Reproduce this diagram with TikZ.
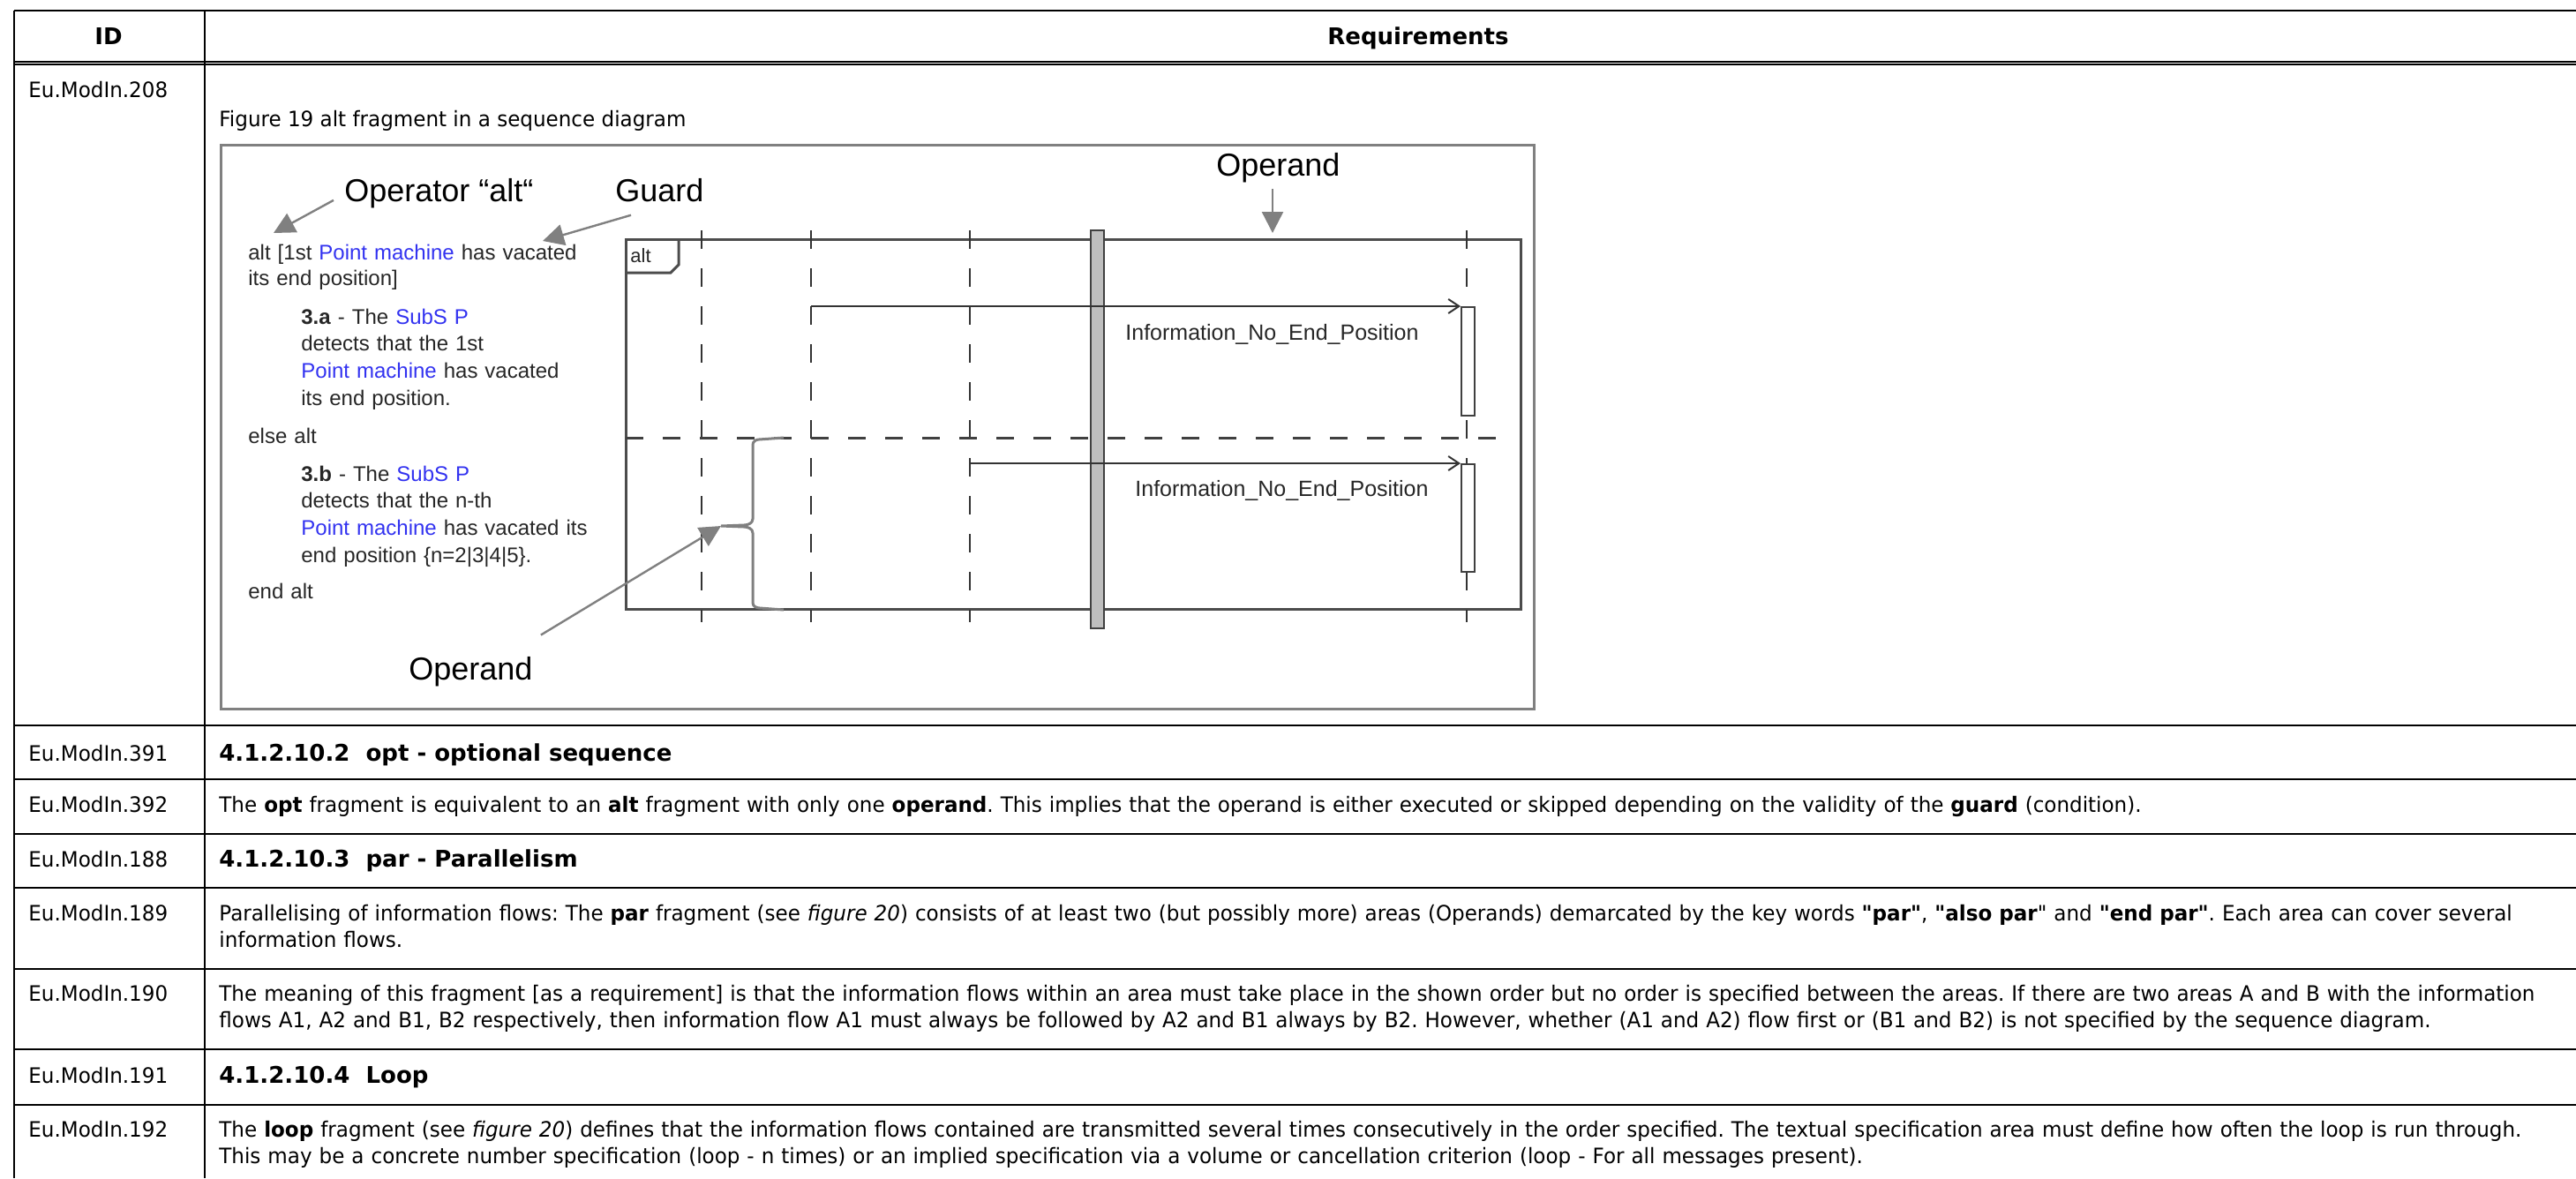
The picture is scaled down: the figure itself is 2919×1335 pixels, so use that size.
\documentclass[tikz,border=0pt]{standalone}
\usepackage{fontspec}
\usepackage{xcolor}
\usepackage{tikz}
\tikzset{>=latex}
\usetikzlibrary{arrows.meta}

\newfontfamily\bodyfont{DejaVu Sans}[FakeStretch=0.96]
\newfontfamily\headfont{DejaVu Sans}
\newfontfamily\figfont{Liberation Sans}
\frenchspacing

\definecolor{figgray}{RGB}{128,128,128}
\definecolor{figblue}{RGB}{50,50,240}
\definecolor{bargray}{RGB}{190,190,190}
\newcommand{\blu}[1]{\textcolor{figblue}{#1}}

\tikzset{
  rule/.style={line width=1pt},
  idlabel/.style={anchor=base west, inner sep=0pt, font=\bodyfont\fontsize{12}{15}\selectfont},
  reqlabel/.style={anchor=base west, inner sep=0pt, align=left, text width=1400pt, font=\bodyfont\fontsize{12}{15}\selectfont},
  titlelabel/.style={anchor=base west, inner sep=0pt, font=\headfont\bfseries\fontsize{13}{16}\selectfont},
  figtxt/.style={anchor=base west, inner sep=0pt, align=left, text width=220pt, text=black!85, font=\figfont\fontsize{12}{15.35}\selectfont},
  annotlabel/.style={anchor=base west, inner sep=0pt, font=\figfont\fontsize{18}{22}\selectfont},
  annot/.style={draw=figgray, line width=1.2pt, -{Triangle[length=12pt,width=12pt]}},
  lifeline/.style={black!80, line width=1pt, dash pattern=on 10.5pt off 11pt},
  msg/.style={black!80, line width=1pt, -{Straight Barb[length=6pt,width=8pt]}},
  actbox/.style={draw=black!75, fill=white, line width=1pt, inner sep=0pt, minimum width=7.5pt, anchor=north west}
}

\begin{document}
\begin{tikzpicture}[x=0.5pt, y=-0.5pt]
   \useasboundingbox (0,0) rectangle (2919,1335);

   % table rules
   \draw[rule] (16,12) -- (2919,12);
   \draw[rule] (16,70) -- (2919,70);
   \draw[rule] (16,73) -- (2919,73);
   \foreach \y in {822,883,945,1006,1098,1189,1252}{
       \draw[rule] (16,\y) -- (2919,\y);
   }
   \draw[rule] (16,12) -- (16,1335);
   \draw[rule] (232,12) -- (232,1335);

   % header
   \node[anchor=base, inner sep=0pt, font=\headfont\bfseries\fontsize{13}{16}\selectfont] (idhead) at (123,50) {ID};
   \node[anchor=base, inner sep=0pt, font=\headfont\bfseries\fontsize{13}{16}\selectfont] (reqhead) at (1607,50) {Requirements};

   % ids
   \node[idlabel] (id208) at (32,110) {Eu.ModIn.208};
   \node[idlabel] (id391) at (32,862) {Eu.ModIn.391};
   \node[idlabel] (id392) at (32,920) {Eu.ModIn.392};
   \node[idlabel] (id188) at (32,982) {Eu.ModIn.188};
   \node[idlabel] (id189) at (32,1043) {Eu.ModIn.189};
   \node[idlabel] (id190) at (32,1134) {Eu.ModIn.190};
   \node[idlabel] (id191) at (32,1227) {Eu.ModIn.191};
   \node[idlabel] (id192) at (32,1288) {Eu.ModIn.192};

   % requirements
   \node[idlabel] (fig19) at (248,143) {Figure 19 alt fragment in a sequence diagram};
   \node[titlelabel] (req391) at (248,862) {4.1.2.10.2\ \ opt - optional sequence};
   \node[reqlabel] (req392) at (248,920) {The \textbf{opt} fragment is equivalent to an \textbf{alt} fragment with only one \textbf{operand}. This implies that the operand is either executed or skipped depending on the validity of the \textbf{guard} (condition).};
   \node[titlelabel] (req188) at (248,982) {4.1.2.10.3\ \ par - Parallelism};
   \node[reqlabel] (req189) at (248,1043) {Parallelising of information flows: The \textbf{par} fragment (see \textit{figure 20}) consists of at least two (but possibly more) areas (Operands) demarcated by the key words \textbf{"par"}, \textbf{"also par}" and \textbf{"end par"}. Each area can cover several\\information flows.};
   \node[reqlabel] (req190) at (248,1134) {The meaning of this fragment [as a requirement] is that the information flows within an area must take place in the shown order but no order is specified between the areas. If there are two areas A and B with the information\\flows A1, A2 and B1, B2 respectively, then information flow A1 must always be followed by A2 and B1 always by B2. However, whether (A1 and A2) flow first or (B1 and B2) is not specified by the sequence diagram.};
   \node[titlelabel] (req191) at (248,1227) {4.1.2.10.4\ \ Loop};
   \node[reqlabel] (req192) at (248,1288) {The \textbf{loop} fragment (see \textit{figure 20}) defines that the information flows contained are transmitted several times consecutively in the order specified. The textual specification area must define how often the loop is run through.\\This may be a concrete number specification (loop - n times) or an implied specification via a volume or cancellation criterion (loop - For all messages present).};

   % figure frame
   \draw[figgray, line width=1.5pt] (250,164) rectangle (1738,803);

   % script text
   \node[figtxt, font=\figfont\fontsize{12}{14.5}\selectfont] (guardtxt) at (281,294) {alt [1st \blu{Point machine} has vacated\\its end position]};
   \node[figtxt] (stepa) at (341,367) {\textbf{3.a} - The \blu{SubS P}\\detects that the 1st\\\blu{Point machine} has vacated\\its end position.};
   \node[figtxt] (elsealt) at (281,502) {else alt};
   \node[figtxt] (stepb) at (341,545) {\textbf{3.b} - The \blu{SubS P}\\detects that the n-th\\\blu{Point machine} has vacated its\\end position \{n=2|3|4|5\}.};
   \node[figtxt] (endalt) at (281,678) {end alt};

   % alt frame
   \draw[black!70, line width=1.5pt] (709,271) rectangle (1723,690);
   \draw[black!70, line width=1.5pt] (709,309) -- (760,309) -- (769,300) -- (769,271);
   \node[figtxt, font=\figfont\fontsize{11}{13}\selectfont] (alttag) at (714,297) {alt};

   % lifelines
   \foreach \x in {795,919,1099,1662}{
       \draw[lifeline] (\x,261) -- (\x,705);
   }
   \coordinate (ll2) at (919,261);
   \coordinate (ll3) at (1099,261);

   % operand separator
   \draw[black!75, line width=1.5pt, dash pattern=on 10pt off 11pt] (709,496) -- (1701,496);

   % thick bar
   \draw[black!75, fill=bargray, line width=0.8pt] (1236,261) rectangle (1251,712);

   % messages
   \node[actbox, minimum height=61.5pt] (act1) at (1655,347) {};
   \node[actbox, minimum height=61pt] (act2) at (1655,525) {};
   \draw[msg] (ll2 |- act1.north west) -- (act1.north west);
   \draw[msg] (ll3 |- act2.north west) -- (act2.north west);
   \node[figtxt, font=\figfont\fontsize{12.5}{15}\selectfont] (msg1) at (1275,385) {Information\_No\_End\_Position};
   \node[figtxt, font=\figfont\fontsize{12.5}{15}\selectfont] (msg2) at (1286,562) {Information\_No\_End\_Position};

   % brace
   \draw[figgray, line width=1.5pt] (888,496) -- (860,498) to[out=180,in=90] (853,504) -- (853,588)
       to[out=-90,in=0] (843,595) -- (817,596) -- (843,597) to[out=0,in=90] (853,604) -- (853,683)
       to[out=-90,in=180] (861,689) -- (888,691);

   % annotations
   \coordinate (optip) at (310,264);
   \coordinate (guardtip) at (615,273);
   \coordinate (bracetip) at (817,596);
   \coordinate (toptip) at (1442,264);
   \node[annotlabel] (operator) at (390,228) {Operator “alt“};
   \node[annotlabel] (guard) at (697,228) {Guard};
   \node[annotlabel] (operandtop) at (1378,199) {Operand};
   \node[annotlabel] (operandbot) at (463,770) {Operand};
   \draw[annot] ([shift={(-12,-9)}]operator.south west) -- (optip);
   \draw[annot] ([shift={(18,15)}]guard.south west) -- (guardtip);
   \draw[annot, shorten <=3.5pt] (toptip |- operandtop.south) -- (toptip);
   \draw[annot] ([shift={(9,-24)}]operandbot.north east) -- (bracetip);
\end{tikzpicture}
\end{document}
